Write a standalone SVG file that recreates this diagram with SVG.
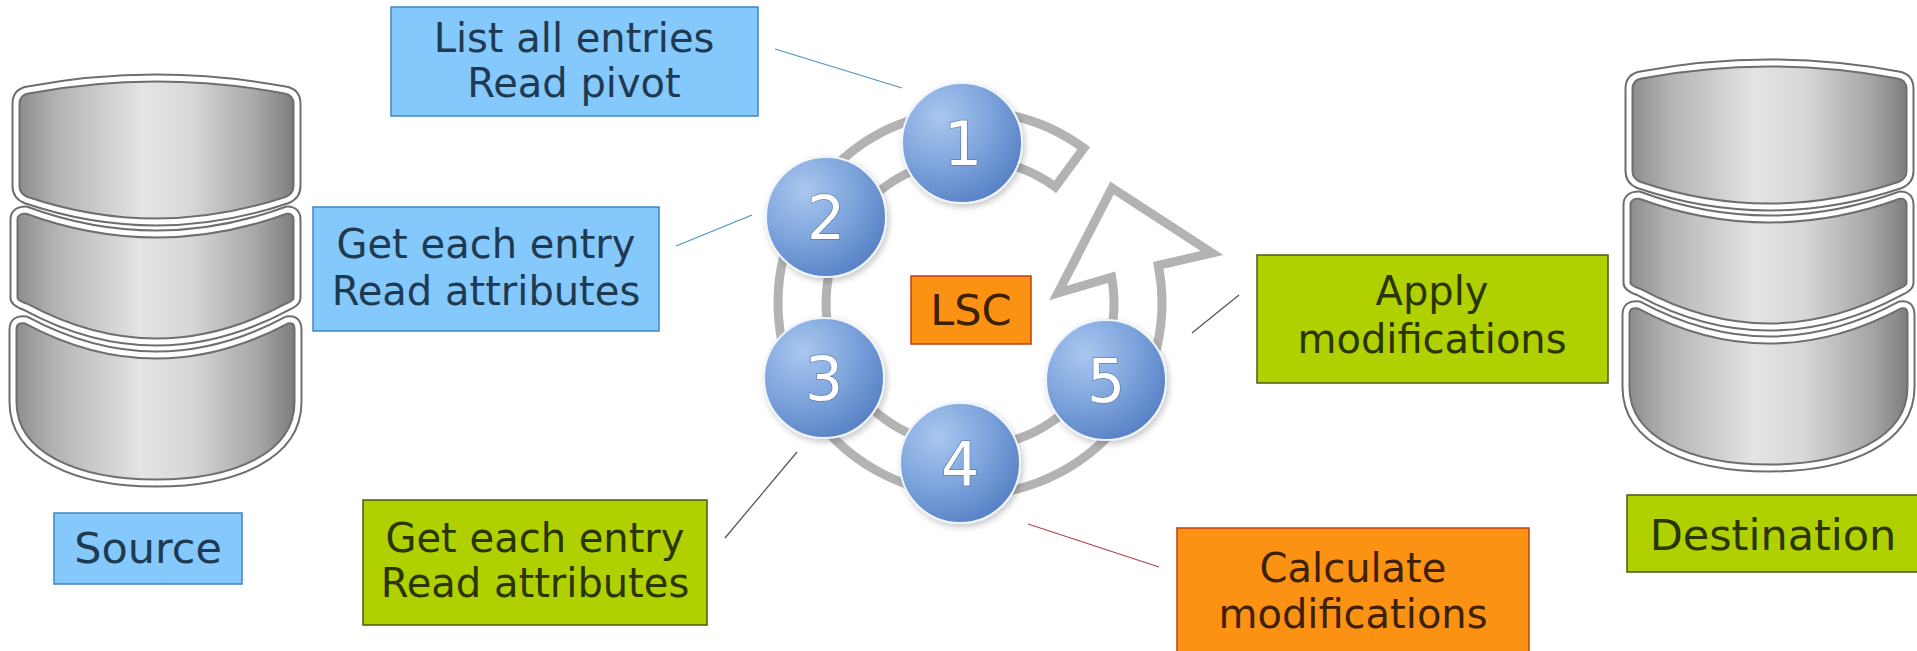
<svg xmlns="http://www.w3.org/2000/svg" width="1917" height="651" viewBox="0 0 1917 651">
<style>
.t{font-family:"DejaVu Sans","Liberation Sans",sans-serif;text-anchor:middle}
.box-blue{fill:#84c8fc;stroke:#3f86c2;stroke-width:1.5}
.box-green{fill:#b0d000;stroke:#4c5a14;stroke-width:1.5}
.box-orange{fill:#fc9214;stroke:#c23e14;stroke-width:1.5}
.tb{fill:#1f3a50;font-size:40px}
.tg{fill:#2a3500;font-size:40px}
.to{fill:#3d2100;font-size:40px}
.seg{fill:url(#dbg);stroke:#6e6e6e;stroke-width:9;stroke-linejoin:round}
.segw{fill:none;stroke:#ffffff;stroke-width:5;stroke-linejoin:round}
.circ{fill:url(#cg);stroke:#eef4fc;stroke-width:2;filter:url(#sh)}
.num{font-family:"DejaVu Sans","Liberation Sans",sans-serif;font-size:60px;text-anchor:middle;fill:#ffffff;stroke:#3c5a8a;stroke-opacity:.55;stroke-width:1.5;paint-order:stroke}
.conn{fill:none;stroke-width:1.3}
</style>
<defs>
<linearGradient id="dbg" x1="0" y1="0" x2="1" y2="0">
<stop offset="0" stop-color="#8a8a8a"/>
<stop offset="0.15" stop-color="#b4b4b4"/>
<stop offset="0.45" stop-color="#e4e4e4"/>
<stop offset="0.62" stop-color="#d8d8d8"/>
<stop offset="0.86" stop-color="#a6a6a6"/>
<stop offset="1" stop-color="#7a7a7a"/>
</linearGradient>
<radialGradient id="cg" cx="0.32" cy="0.28" r="0.8">
<stop offset="0" stop-color="#a9c7ef"/>
<stop offset="0.5" stop-color="#80a6dd"/>
<stop offset="1" stop-color="#557fc4"/>
</radialGradient>
<filter id="sh" x="-30%" y="-30%" width="160%" height="160%">
<feDropShadow dx="2" dy="3" stdDeviation="3" flood-color="#000" flood-opacity="0.22"/>
</filter>
<g id="db">
<path class="seg" d="M16,104 Q16,92 28,90 Q156,66 285,90 Q297,92 297,104 L297,186 Q297,196 287,200 Q156,244 26,200 Q16,196 16,186 Z"/>
<path class="segw" d="M16,104 Q16,92 28,90 Q156,66 285,90 Q297,92 297,104 L297,186 Q297,196 287,200 Q156,244 26,200 Q16,196 16,186 Z"/>
<path class="seg" d="M14,220 Q14,210 26,210 Q156,258 287,210 Q297,210 297,220 L297,298 Q297,303 287,307 Q156,377 26,307 Q14,303 14,298 Z"/>
<path class="segw" d="M14,220 Q14,210 26,210 Q156,258 287,210 Q297,210 297,220 L297,298 Q297,303 287,307 Q156,377 26,307 Q14,303 14,298 Z"/>
<path class="seg" d="M13,330 Q13,318 26,320 Q156,390 287,320 Q298,318 298,330 L298,402 C298,456 235,483 156,483 C77,483 13,456 13,402 Z"/>
<path class="segw" d="M13,330 Q13,318 26,320 Q156,390 287,320 Q298,318 298,330 L298,402 C298,456 235,483 156,483 C77,483 13,456 13,402 Z"/>
</g>
</defs>
<rect width="1917" height="651" fill="#ffffff"/>

<g id="source-db"><use href="#db"/></g>
<g id="destination-db"><use href="#db" transform="translate(1613,-15)"/></g>

<g id="cycle-arrow">
<path d="M1083.7,148.2 A192,192 0 1 0 1158.3,265.4 L1212,253 L1112,188 L1058,293 L1111.7,277.2 A144,144 0 1 1 1055.2,186.9 Z" fill="#ffffff" stroke="#b3b3b3" stroke-width="9" stroke-linejoin="miter"/>
</g>

<g id="connectors">
<line class="conn" x1="775" y1="49" x2="902" y2="88" stroke="#4f92c6"/>
<line class="conn" x1="676" y1="246" x2="752" y2="215" stroke="#4f92c6"/>
<line class="conn" x1="725" y1="538" x2="797" y2="452" stroke="#555a4a"/>
<line class="conn" x1="1028" y1="524" x2="1159" y2="567" stroke="#b04458"/>
<line class="conn" x1="1192" y1="333" x2="1239" y2="295" stroke="#555a4a"/>
</g>

<g id="step1"><circle class="circ" cx="962" cy="143" r="60"/><text class="num" x="963" y="165">1</text></g>
<g id="step2"><circle class="circ" cx="826" cy="217" r="60"/><text class="num" x="826" y="239">2</text></g>
<g id="step3"><circle class="circ" cx="824" cy="378" r="60"/><text class="num" x="824" y="400">3</text></g>
<g id="step4"><circle class="circ" cx="960" cy="463" r="60"/><text class="num" x="960" y="485">4</text></g>
<g id="step5"><circle class="circ" cx="1106" cy="380" r="60"/><text class="num" x="1106" y="402">5</text></g>

<g id="lsc"><rect class="box-orange" x="911" y="276" width="120" height="68"/><text class="t to" x="971" y="325" style="font-size:43px">LSC</text></g>

<g id="list-entries"><rect class="box-blue" x="391" y="7" width="367" height="109"/><text class="t tb" x="574" y="52">List all entries</text><text class="t tb" x="574" y="97">Read pivot</text></g>

<g id="get-entry-blue"><rect class="box-blue" x="313" y="207" width="346" height="124"/><text class="t tb" x="486" y="258">Get each entry</text><text class="t tb" x="486" y="305">Read attributes</text></g>

<g id="get-entry-green"><rect class="box-green" x="363" y="500" width="344" height="125"/><text class="t tg" x="535" y="552">Get each entry</text><text class="t tg" x="535" y="597">Read attributes</text></g>

<g id="apply"><rect class="box-green" x="1257" y="255" width="351" height="128"/><text class="t tg" x="1432" y="305">Apply</text><text class="t tg" x="1432" y="353">modifications</text></g>

<g id="calculate"><rect class="box-orange" x="1177" y="528" width="352" height="140"/><text class="t to" x="1353" y="582">Calculate</text><text class="t to" x="1353" y="628">modifications</text></g>

<g id="source"><rect class="box-blue" x="54" y="513" width="188" height="71"/><text class="t tb" x="148" y="563" style="font-size:43px">Source</text></g>

<g id="destination"><rect class="box-green" x="1627" y="495" width="300" height="77"/><text class="t tg" x="1773" y="550" style="font-size:43px">Destination</text></g>
</svg>
